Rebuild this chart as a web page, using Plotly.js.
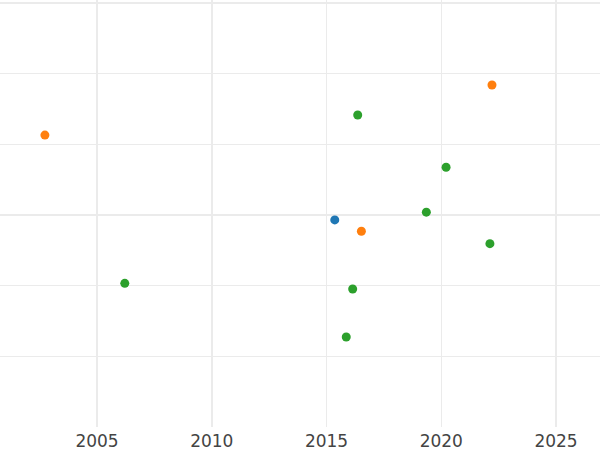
<!DOCTYPE html>
<html>
<head>
<meta charset="utf-8">
<script src="https://cdn.plot.ly/plotly-3.0.1.min.js"></script>
<style>html,body{margin:0;padding:0;background:#fff;}#chart{width:600px;height:450px;}</style>
</head>
<body>
<div id="chart"></div>
<script>
// Series A (blue)
const blueX = [2015.36];
const blueY = [2.93];
// Series B (orange)
const orangeX = [2002.73, 2022.21, 2016.52];
const orangeY = [4.13, 4.84, 2.77];
// Series C (green)
const greenX = [2016.36, 2020.21, 2019.35, 2022.12, 2006.21, 2016.14, 2015.86];
const greenY = [4.415, 3.675, 3.04, 2.594, 2.033, 1.953, 1.274];
const xTicks = [2005, 2010, 2015, 2020, 2025];

const mk = (x, y, color) => ({
  x: x, y: y, type: 'scatter', mode: 'markers',
  marker: {color: color, size: 9},
  showlegend: false, hoverinfo: 'x+y'
});

const data = [
  mk(blueX, blueY, '#1f77b4'),
  mk(orangeX, orangeY, '#ff7f0e'),
  mk(greenX, greenY, '#2ca02c')
];

const layout = {
  width: 600, height: 450,
  margin: {l: 0, r: 0, t: 0, b: 23, pad: 0},
  paper_bgcolor: '#ffffff',
  plot_bgcolor: '#ffffff',
  font: {family: 'DejaVu Sans', size: 17, color: '#444444'},
  xaxis: {
    range: [2000.773, 2026.917],
    tickvals: xTicks,
    ticktext: xTicks.map(String),
    showgrid: true, gridcolor: '#ebebeb', gridwidth: 1.5,
    zeroline: false, showline: false, ticks: '',
    ticklabelstandoff: 2,
    tickfont: {family: 'DejaVu Sans', size: 17, color: '#444444'}
  },
  yaxis: {
    range: [0, 6.042],
    dtick: 1, tick0: 0,
    showticklabels: false,
    showgrid: true, gridcolor: '#ebebeb', gridwidth: 1.5,
    zeroline: false, showline: false, ticks: ''
  }
};

Plotly.newPlot('chart', data, layout, {displayModeBar: false, staticPlot: true});
</script>
</body>
</html>
